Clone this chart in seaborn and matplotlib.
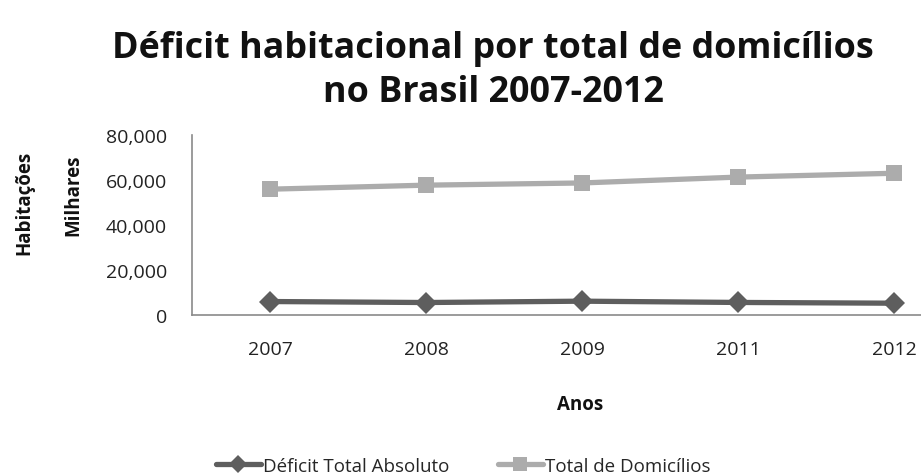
import matplotlib
matplotlib.use("Agg")
import matplotlib.pyplot as plt
import seaborn as sns
import pandas as pd
from matplotlib.ticker import FuncFormatter
from matplotlib.lines import Line2D

anos = ["2007", "2008", "2009", "2011", "2012"]
deficit_total = [5989, 5546, 6143, 5581, 5244]
total_domicilios = [55918, 57703, 58684, 61292, 62996]
series_names = ["Déficit Total Absoluto", "Total de Domicílios"]
series_colors = ["#5e5e5e", "#acacac"]

sns.set_theme(style="white")
plt.rcParams["font.family"] = ["Open Sans", "DejaVu Sans"]

df = pd.DataFrame({
    "Ano": anos * 2,
    "Valor": deficit_total + total_domicilios,
    "Série": [series_names[0]] * len(anos) + [series_names[1]] * len(anos),
})
df["pos"] = df["Ano"].map({a: i for i, a in enumerate(anos)})

fig = plt.figure(figsize=(9.21, 4.77), dpi=100)
# plot area: left edge at 192px, one category every 156px
W, H = 921, 477
ax = fig.add_axes([192 / W, 1 - 316 / H, 780 / W, 180 / H])

sns.lineplot(
    data=df, x="pos", y="Valor", hue="Série", style="Série",
    markers={series_names[0]: "D", series_names[1]: "s"},
    dashes=False, palette=dict(zip(series_names, series_colors)),
    linewidth=3.8, markersize=11.5, markeredgewidth=0, ax=ax, legend=False,
)

ax.set_xlim(-0.5, len(anos) - 0.5)
ax.set_ylim(0, 80000)
ax.set_yticks([0, 20000, 40000, 60000, 80000])
ax.yaxis.set_major_formatter(FuncFormatter(lambda v, p: f"{int(v):,}"))
ax.set_xticks(range(len(anos)))
ax.set_xticklabels(anos)
ax.tick_params(axis="both", length=0, labelsize=14, colors="#222222")
ax.tick_params(axis="x", pad=18)
ax.tick_params(axis="y", pad=18)
for s in ["top", "right"]:
    ax.spines[s].set_visible(False)
for s in ["left", "bottom"]:
    ax.spines[s].set_color("#8a8a8a")
    ax.spines[s].set_linewidth(1.2)
ax.set_xlabel("")
ax.set_ylabel("")

fig.text(493 / W, 1 - 71 / H, "Déficit habitacional por total de domicílios\nno Brasil 2007-2012",
         ha="center", va="center", fontsize=25.8, fontweight="bold", linespacing=1.3,
         color="#111111")
fig.text(24 / W, 1 - 203 / H, "Habitações", rotation=90, ha="center", va="center",
         fontsize=13.5, fontweight="bold", color="#111111")
fig.text(73 / W, 1 - 195 / H, "Milhares", rotation=90, ha="center", va="center",
         fontsize=13.5, fontweight="bold", color="#111111")
fig.text(580 / W, 1 - 405 / H, "Anos", ha="center", va="center",
         fontsize=13.5, fontweight="bold", color="#111111")

handles = [
    Line2D([], [], color=series_colors[0], marker="D", markersize=9, markeredgewidth=0, linewidth=3.8),
    Line2D([], [], color=series_colors[1], marker="s", markersize=10, markeredgewidth=0, linewidth=3.8),
]
fig.legend(handles, series_names, loc="center", bbox_to_anchor=(463 / W, 1 - 467 / H),
           ncol=2, frameon=False, fontsize=13.5, handlelength=2.4, handletextpad=0.1,
           columnspacing=2.6)

fig.savefig("out.png", dpi=100)
